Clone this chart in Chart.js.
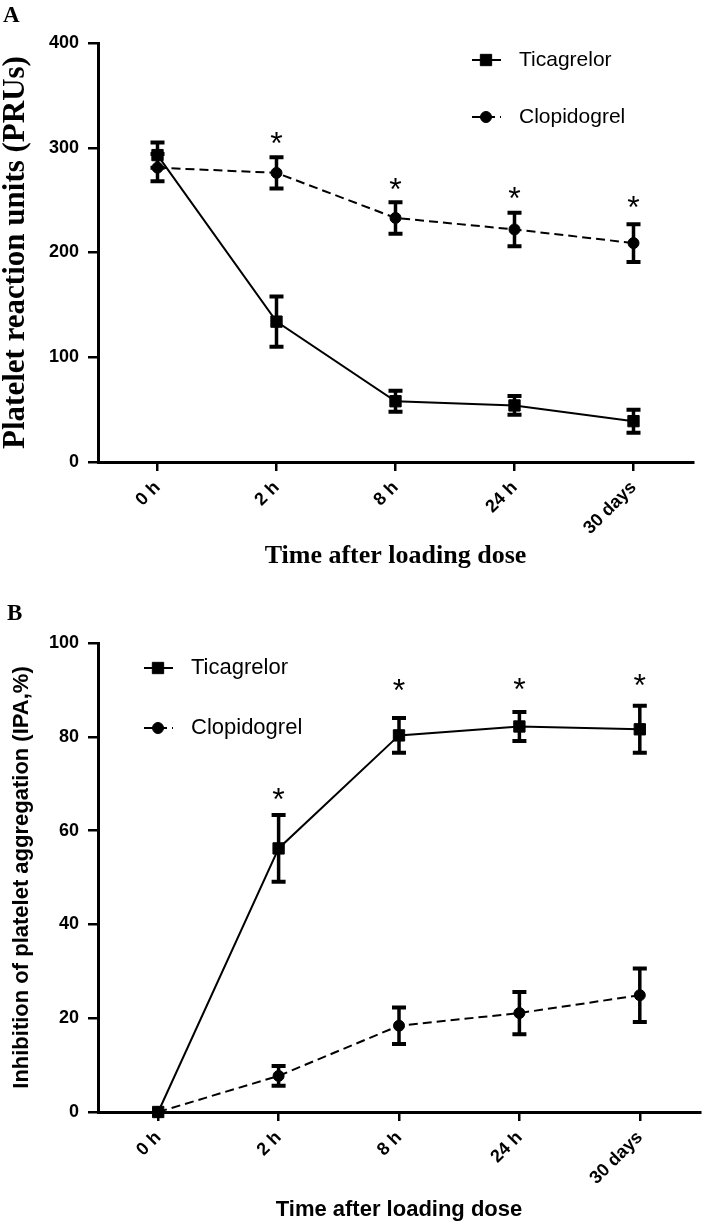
<!DOCTYPE html>
<html>
<head>
<meta charset="utf-8">
<script src="https://cdn.jsdelivr.net/npm/chart.js@4/dist/chart.umd.min.js"></script>
<style>
    body { margin: 0; background: #ffffff; }
    .panel { position: absolute; left: 0; }
    .tag { position: absolute; font-family: "Liberation Serif", "Times New Roman", serif; font-weight: bold; font-size: 23px; color: #000; }
</style>
</head>
<body>
<div class="panel" style="top:0px"><canvas id="chartA" width="709" height="580"></canvas></div>
<div class="panel" style="top:580px"><canvas id="chartB" width="709" height="645"></canvas></div>
<div class="tag" style="left:3px; top:2px">A</div>
<div class="tag" style="left:7px; top:600px">B</div>

<script>
const timePoints = ["0 h", "2 h", "8 h", "24 h", "30 days"];
const seriesNames = ["Ticagrelor", "Clopidogrel"];

// panel A: platelet reaction units
const pruTicagrelor = [293, 134, 58, 54, 39];
const pruTicagrelorErr = [12, 24, 10, 9, 11];
const pruClopidogrel = [281, 276, 233, 222, 209];
const pruClopidogrelErr = [13, 15, 15, 16, 18];
const pruStars = [null, 311, 268, 259, 250];
const pruTicks = [0, 100, 200, 300, 400];

// panel B: inhibition of platelet aggregation
const ipaTicagrelor = [0, 56.2, 80.3, 82.2, 81.6];
const ipaTicagrelorErr = [0, 7.1, 3.7, 3.1, 5];
const ipaClopidogrel = [0, 7.7, 18.4, 21.1, 24.9];
const ipaClopidogrelErr = [0, 2.1, 3.9, 4.5, 5.7];
const ipaStars = [null, 68.3, 91.5, 91.8, 92.6];
const ipaTicks = [0, 20, 40, 60, 80, 100];

const SANS = "'Liberation Sans', Arial, sans-serif";
const SERIF = "'Liberation Serif', 'Times New Roman', serif";

// error bars, significance stars and the legend
const extrasPlugin = {
    id: "extras",
    afterDatasetsDraw(chart, args, opts) {
        const ctx = chart.ctx;
        const x = chart.scales.x;
        const y = chart.scales.y;
        ctx.save();
        ctx.strokeStyle = "#000";
        ctx.fillStyle = "#000";
        ctx.setLineDash([]);

        chart.data.datasets.forEach(function (ds, i) {
            const errs = opts.errors[i];
            ds.data.forEach(function (v, j) {
                if (!errs[j]) return;
                const px = x.getPixelForValue(j);
                const top = y.getPixelForValue(v + errs[j]);
                const bot = y.getPixelForValue(v - errs[j]);
                ctx.lineWidth = 3.5;
                ctx.beginPath();
                ctx.moveTo(px, top);
                ctx.lineTo(px, bot);
                ctx.stroke();
                ctx.lineWidth = 4;
                ctx.beginPath();
                ctx.moveTo(px - 7, top);
                ctx.lineTo(px + 7, top);
                ctx.moveTo(px - 7, bot);
                ctx.lineTo(px + 7, bot);
                ctx.stroke();
            });
        });

        ctx.font = "32px " + SANS;
        ctx.textAlign = "center";
        ctx.textBaseline = "alphabetic";
        opts.stars.forEach(function (s, j) {
            if (s === null) return;
            ctx.fillText("*", x.getPixelForValue(j), y.getPixelForValue(s) + 32 * 0.57);
        });

        const lg = opts.legend;
        chart.data.datasets.forEach(function (ds, i) {
            const ly = lg.y + i * lg.gap;
            ctx.lineWidth = ds.borderWidth;
            ctx.setLineDash(ds.borderDash || []);
            ctx.beginPath();
            ctx.moveTo(lg.x, ly);
            ctx.lineTo(lg.x + 29, ly);
            ctx.stroke();
            ctx.setLineDash([]);
            ctx.lineWidth = 1;
            Chart.helpers.drawPoint(ctx, {
                pointStyle: ds.pointStyle,
                rotation: 0,
                radius: ds.pointRadius,
                borderWidth: 1
            }, lg.x + 14, ly);
            ctx.font = lg.size + "px " + SANS;
            ctx.textAlign = "left";
            ctx.textBaseline = "middle";
            ctx.fillText(ds.label, lg.x + 47, ly);
        });
        ctx.restore();
    }
};

function makeDatasets(ticData, clopData) {
    return [{
        label: seriesNames[0],
        data: ticData,
        borderColor: "#000",
        backgroundColor: "#000",
        borderWidth: 2,
        pointStyle: "rect",
        pointRadius: 8,
        pointBorderWidth: 1,
        tension: 0,
        clip: false
    }, {
        label: seriesNames[1],
        data: clopData,
        borderColor: "#000",
        backgroundColor: "#000",
        borderWidth: 2,
        borderDash: [9, 5],
        pointStyle: "circle",
        pointRadius: 5.5,
        pointBorderWidth: 1,
        tension: 0,
        clip: false
    }];
}

function CreatePanel(canvasID, p) {
    const chartCanvas = document.getElementById(canvasID);
    return new Chart(chartCanvas, {
        type: "line",
        data: {
            labels: timePoints,
            datasets: makeDatasets(p.tic, p.clop)
        },
        options: {
            responsive: false,
            animation: false,
            devicePixelRatio: 1,
            layout: { padding: p.padding },
            plugins: {
                legend: { display: false },
                tooltip: { enabled: false },
                extras: {
                    errors: [p.ticErr, p.clopErr],
                    stars: p.stars,
                    legend: p.legend
                }
            },
            scales: {
                x: {
                    type: "category",
                    offset: true,
                    afterFit: function (scale) { scale.height = p.xHeight; },
                    border: { color: "#000", width: 3 },
                    grid: { drawOnChartArea: false, color: "#000", lineWidth: 2.5, tickLength: 9, offset: false },
                    ticks: {
                        color: "#000",
                        autoSkip: false,
                        maxRotation: 45,
                        minRotation: 45,
                        padding: 6,
                        font: { family: SANS, size: 18, weight: "bold" }
                    },
                    title: {
                        display: true,
                        text: "Time after loading dose",
                        color: "#000",
                        font: p.xTitleFont,
                        padding: { top: 0, bottom: p.xTitlePad }
                    }
                },
                y: {
                    min: p.yTicks[0],
                    max: p.yTicks[p.yTicks.length - 1],
                    afterFit: function (scale) { scale.width = 98; },
                    afterBuildTicks: function (scale) {
                        scale.ticks = p.yTicks.map(function (v) { return { value: v }; });
                    },
                    border: { color: "#000", width: 3 },
                    grid: { drawOnChartArea: false, color: "#000", lineWidth: 2.5, tickLength: 10 },
                    ticks: {
                        color: "#000",
                        padding: 9,
                        font: { family: SANS, size: 18, weight: "bold" }
                    },
                    title: {
                        display: true,
                        text: p.yTitle,
                        color: "#000",
                        font: p.yTitleFont,
                        padding: { top: p.yTitlePad, bottom: 0 }
                    }
                }
            }
        },
        plugins: [extrasPlugin]
    });
}

CreatePanel("chartA", {
    tic: pruTicagrelor, ticErr: pruTicagrelorErr,
    clop: pruClopidogrel, clopErr: pruClopidogrelErr,
    stars: pruStars, yTicks: pruTicks,
    yTitle: "Platelet reaction units (PRUs)",
    yTitleFont: { family: SERIF, size: 31, weight: "bold", lineHeight: 1 },
    yTitlePad: 0,
    xTitleFont: { family: SERIF, size: 26, weight: "bold", lineHeight: 1.2 },
    xTitlePad: 8,
    xHeight: 118,
    padding: { top: 43, right: 16, left: 0, bottom: 0 },
    legend: { x: 472, y: 60, gap: 57, size: 21 }
});

CreatePanel("chartB", {
    tic: ipaTicagrelor, ticErr: ipaTicagrelorErr,
    clop: ipaClopidogrel, clopErr: ipaClopidogrelErr,
    stars: ipaStars, yTicks: ipaTicks,
    yTitle: "Inhibition of platelet aggregation (IPA,%)",
    yTitleFont: { family: SANS, size: 22, weight: "bold", lineHeight: 1.2 },
    yTitlePad: 9,
    xTitleFont: { family: SANS, size: 22, weight: "bold", lineHeight: 1.2 },
    xTitlePad: 2,
    xHeight: 113,
    padding: { top: 63, right: 6, left: 0, bottom: 0 },
    legend: { x: 144, y: 88, gap: 60, size: 22 }
});
</script>
</body>
</html>
